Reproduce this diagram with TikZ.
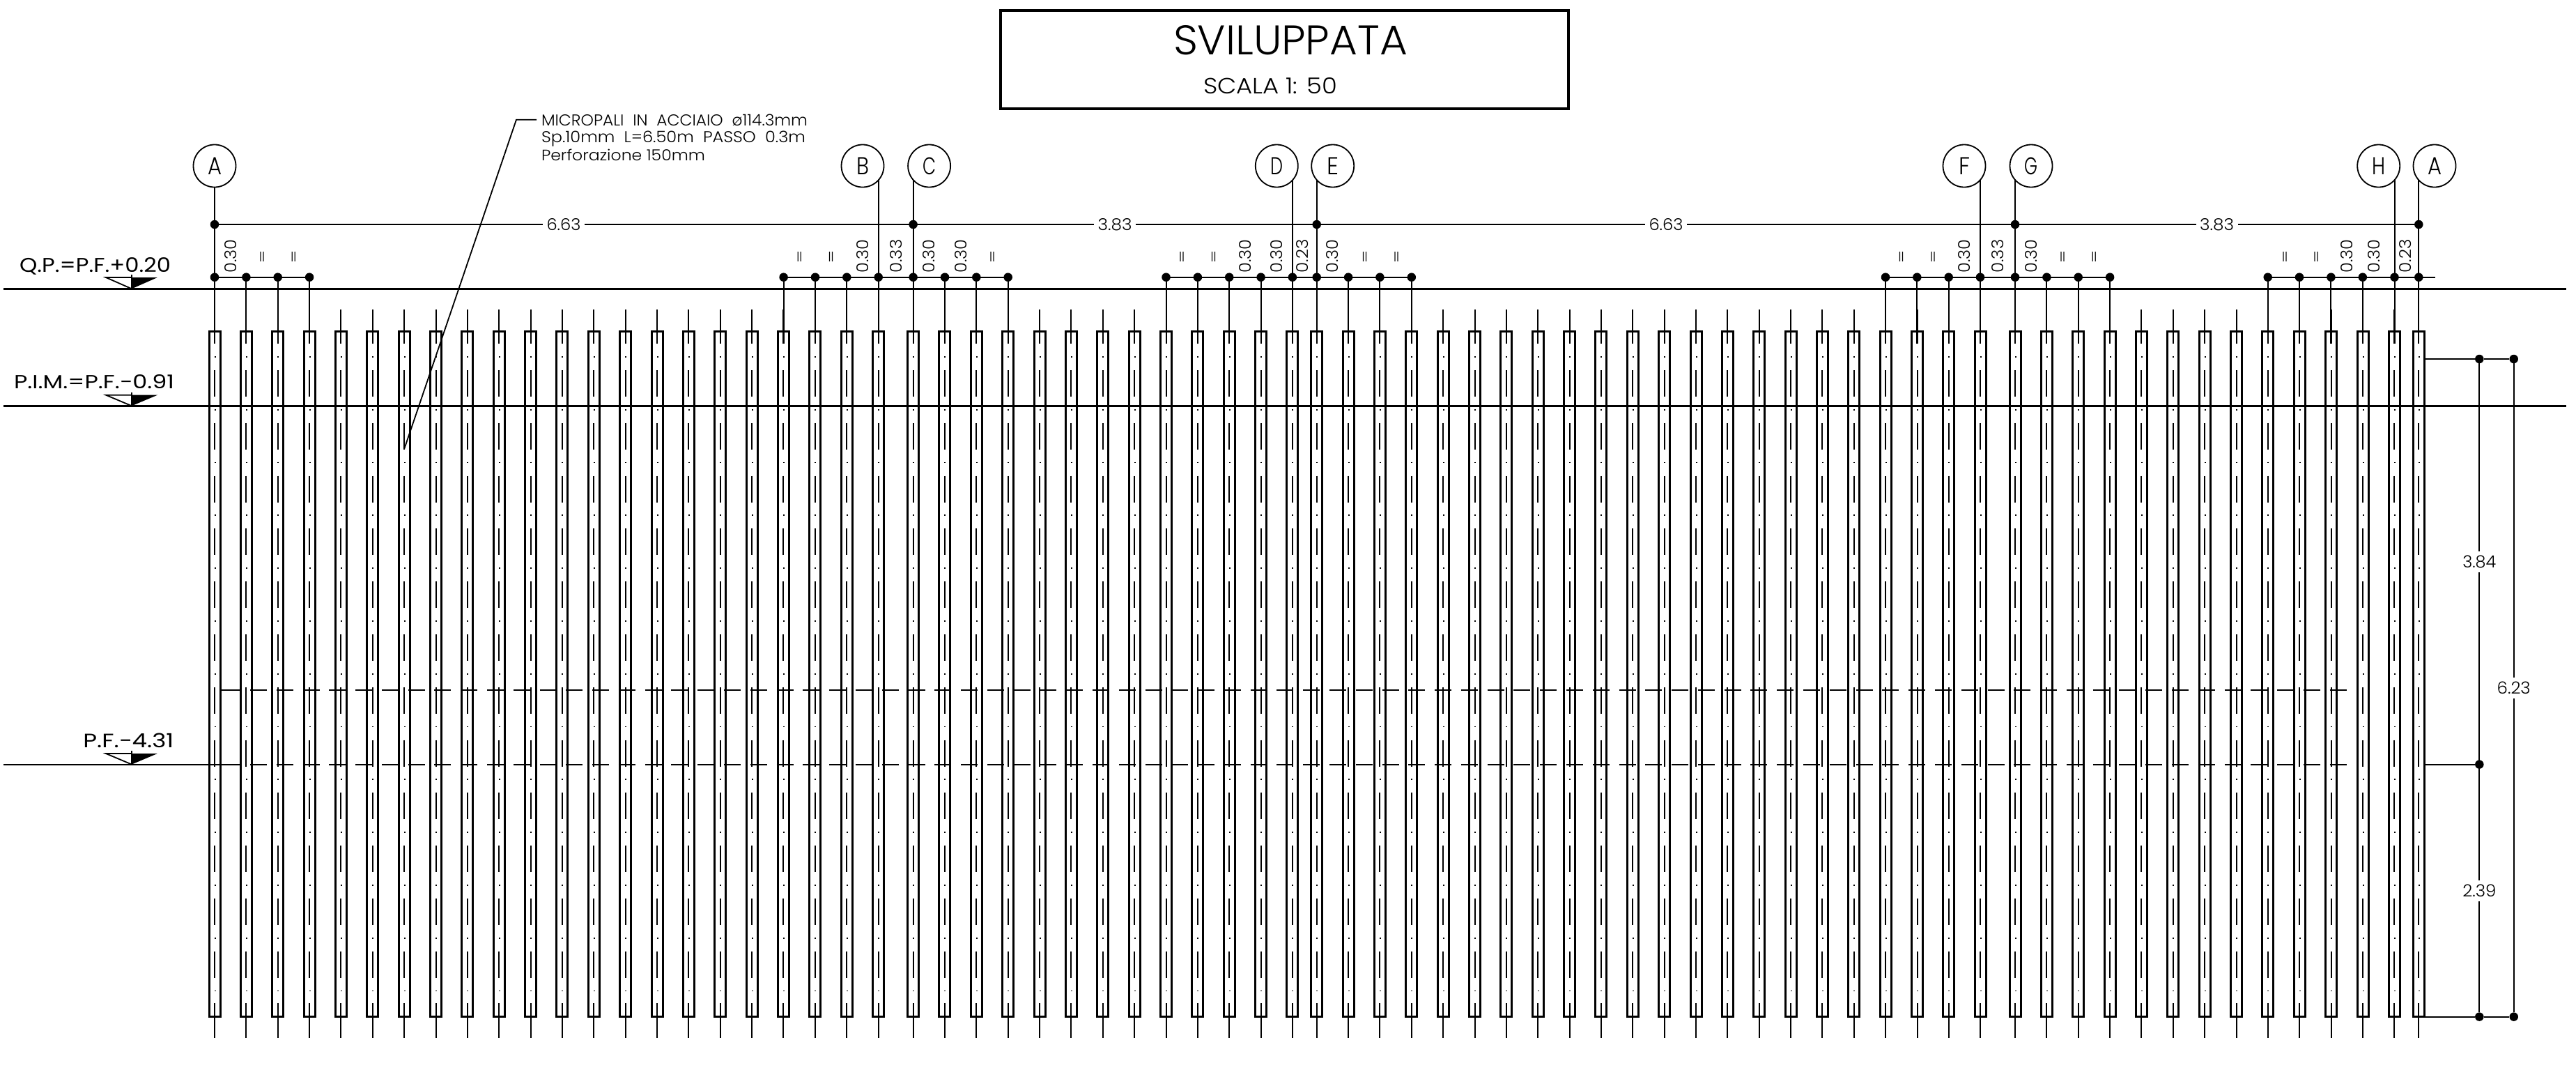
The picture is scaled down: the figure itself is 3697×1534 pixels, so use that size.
\documentclass[tikz,border=0pt]{standalone}
\usepackage{fontspec}
\setmainfont{Poppins}[UprightFont=* Light]
\newfontfamily\levelfont{Poppins}
\usepackage{graphicx}
\newcommand{\fit}[3]{\resizebox{#1pt}{#2pt}{#3}}
\tikzset{
  x=1pt,y=-1pt,
  pilebox/.style={draw=black,line width=3pt,line join=miter},
  axisline/.style={draw=black,line width=2pt},
  dimline/.style={draw=black,line width=1.8pt},
  levelline/.style={draw=black,line width=3pt},
  thinlevel/.style={draw=black,line width=2pt},
  dimdot/.style={circle,fill=black,draw=none,minimum size=12.5pt,inner sep=0pt},
  lab/.style={inner sep=0pt,outer sep=0pt},
  gaplab/.style={fill=white,inner sep=0pt,minimum width=60pt,minimum height=26pt},
  gaplabv/.style={fill=white,inner sep=0pt,minimum width=56pt,minimum height=30pt},
  axiscircle/.style={circle,draw=black,line width=1.8pt,fill=white,minimum size=61pt,inner sep=0pt},
}
\newcommand{\pile}[1]{%
  \draw[pilebox] (#1-8,475) rectangle (#1+8,1458.6);
  \draw[axisline] (#1,444) -- (#1,493);
  \draw[axisline,dash pattern=on 38pt off 37.8pt] (#1,531) -- (#1,1440);
  \draw[axisline,dash pattern=on 1.8pt off 74pt] (#1+.5,511) -- (#1+.5,1425);
  \draw[axisline] (#1,1439) -- (#1,1489);
}
\newcommand{\levelmark}[2]{% apex y, top y
  \draw[line width=1.8pt,fill=white,line join=miter] (152,#2) -- (189,#1) -- (189,#2) -- cycle;
  \fill[black] (189,#2) -- (226,#2) -- (189,#1) -- cycle;
  \draw[line width=1.8pt] (189,#2-4) -- (189,#1);
}
\begin{document}
\begin{tikzpicture}
\useasboundingbox (0,0) rectangle (3697,1534);
% title
\node[draw=black,line width=3.5pt,minimum width=815pt,minimum height=141pt,inner sep=0pt] (titlebox) at (1843.5,85.5) {};
\node[lab,anchor=base] (title) at (1852,78) {\fit{336}{42}{SVILUPPATA}};
\node[lab,anchor=base] (scale) at (1823,134) {\fit{192}{23}{SCALA 1: 50}};
% piles
\foreach \s/\n in {308/21,1310.6/12,1889.7/21,2892/12}{
  \foreach \k in {0,...,\n}{
    \pgfmathsetmacro\X{\s+\k*45.36}
    \pile{\X}
  }
}
\pile{3471.3}
% hidden dashed levels
\draw[thinlevel] (317.6,990.3) -- (344,990.3);
\draw[thinlevel,dash pattern=on 24pt off 13.78pt] (359,990.3) -- (3372,990.3);
\draw[thinlevel] (5,1096.6) -- (344,1096.6);
\draw[thinlevel,dash pattern=on 24pt off 13.78pt] (359,1096.6) -- (3372,1096.6);
% levels
\draw[levelline] (5,414.3) -- (3683,414.3);
\draw[levelline] (5,582.3) -- (3683,582.3);
\levelmark{414.3}{398}
\levelmark{582.3}{566.7}
\levelmark{1096.6}{1081}
\node[lab,anchor=base west] (lqp) at (28,390) {\fit{217}{21}{\levelfont Q.P.=P.F.+0.20}};
\node[lab,anchor=base west] (lpim) at (20,557.7) {\fit{230}{20}{\levelfont P.I.M.=P.F.−0.91}};
\node[lab,anchor=base west] (lpf) at (119.4,1072) {\fit{130}{20.5}{\levelfont P.F.−4.31}};
% axis circles
\node[axiscircle] (cA) at (308,238) {\fit{20}{24.5}{A}};
\node[axiscircle] (cB) at (1238,238) {\fit{18}{24.5}{B}};
\node[axiscircle] (cC) at (1333.6,238) {\fit{19}{24.5}{C}};
\node[axiscircle] (cD) at (1832.3,238) {\fit{18}{24.5}{D}};
\node[axiscircle] (cE) at (1912.7,238) {\fit{17}{24.5}{E}};
\node[axiscircle] (cF) at (2819,238) {\fit{16}{24.5}{F}};
\node[axiscircle] (cG) at (2915,238) {\fit{19}{24.5}{G}};
\node[axiscircle] (cH) at (3413.7,238) {\fit{19}{24.5}{H}};
\node[axiscircle] (cAb) at (3494,238) {\fit{20}{24.5}{A}};
% named grid axes
\foreach \c/\x/\ys in {cA/308/268.5,cB/1261/258,cC/1310.6/258,cD/1854.9/258,cE/1889.7/258,cF/2842/258,cG/2892/258,cH/3436.5/258,cAb/3471.3/258}{
  \coordinate (\c top) at (\x,\ys);
  \coordinate (\c end) at (\x,493);
  \draw[axisline] (\c top) -- (\c end);
}
% overall dimension chain
\foreach \n/\x in {a/308,b/1310.6,c/1889.7,d/2892,e/3471.3}{
  \node[dimdot] (top\n) at (\x,322) {};
}
\draw[dimline] (topa) -- (tope);
\node[lab,gaplab] (d1) at (809,322) {\fit{49}{17}{6.63}};
\node[lab,gaplab] (d2) at (1600,322) {\fit{49}{17}{3.83}};
\node[lab,gaplab] (d3) at (2391,322) {\fit{49}{17}{6.63}};
\node[lab,gaplab] (d4) at (3181.6,322) {\fit{49}{17}{3.83}};
% small dimension chains
\coordinate (g5end) at (3494.7,397.7);
\foreach \g/\first/\last/\xs in {
  1/308/444/{308,353.4,398.7,444.1},
  2/1124.6/1447/{1124.6,1170,1215.3,1260.7,1310.6,1356,1401.3,1446.7},
  3/1673.5/2025.8/{1673.5,1718.9,1764.2,1809.6,1854.9,1889.7,1935.1,1980.4,2025.8},
  4/2706/3028/{2706,2751.3,2796.7,2842,2892,2937.4,2982.7,3028.1},
  5/3254.7/3471.3/{3254.7,3300,3345.4,3390.8,3436.5,3471.3}}{
  \coordinate (g\g a) at (\first,397.7);
  \coordinate (g\g b) at (\last,397.7);
  \draw[dimline] (g\g a) -- (g\g b);
  \foreach \x in \xs {
    \draw[axisline] (\x,397.7) -- (\x,493);
    \node[dimdot] at (\x,397.7) {};
  }
}
\draw[dimline] (g5b) -- (g5end);
% rotated figures
\foreach \x/\t in {330.6/0.30,1238/0.30,1285.6/0.33,1333.3/0.30,1378.7/0.30,
  1786.9/0.30,1832.5/0.30,1869/0.23,1912.4/0.30,
  2819.3/0.30,2867/0.33,2914.7/0.30,
  3368/0.30,3407/0.30,3452.3/0.23}{
  \node[lab,rotate=90] at (\x,367.5) {\fit{48}{17}{\t}};
}
% equal marks
\foreach \x in {376,421.4,1147.3,1192.6,1424,1696.2,1741.5,1958.7,2004,2728.6,2774,2960,3005.4,3279,3324}{
  \node[lab] at (\x,368) {\fit{8}{14}{II}};
}
% right dimensions
\coordinate (r1) at (3481,515);
\coordinate (r2) at (3481,1096.6);
\coordinate (r3) at (3481,1458.6);
\node[dimdot] (ra) at (3558.3,515) {};
\node[dimdot] (rb) at (3607.7,515) {};
\node[dimdot] (rc) at (3558.3,1096.6) {};
\node[dimdot] (rd) at (3558.3,1458.6) {};
\node[dimdot] (re) at (3607.7,1458.6) {};
\draw[dimline] (r1) -- (ra) -- (rb);
\draw[dimline] (r2) -- (rc);
\draw[dimline] (r3) -- (rd) -- (re);
\draw[dimline] (ra) -- (rd);
\draw[dimline] (rb) -- (re);
\node[lab,gaplabv] (v1) at (3558.3,805.7) {\fit{48}{17.5}{3.84}};
\node[lab,gaplabv] (v2) at (3607.7,987) {\fit{48}{17.5}{6.23}};
\node[lab,gaplabv] (v3) at (3558.3,1277.6) {\fit{48}{17.5}{2.39}};
% note
\coordinate (ld0) at (770,171.7);
\coordinate (ld1) at (741,171.7);
\coordinate (ld2) at (580,644.5);
\draw[dimline] (ld0) -- (ld1) -- (ld2);
\node[lab,anchor=base west] (n1) at (777,180) {\fit{382}{16.5}{MICROPALI\ \ IN\ \ ACCIAIO\ \ ø114.3mm}};
\node[lab,anchor=base west] (n2) at (777,204.3) {\fit{379}{16.5}{Sp.10mm\ \ L=6.50m\ \ PASSO\ \ 0.3m}};
\node[lab,anchor=base west] (n3) at (777,230) {\fit{235}{16.5}{Perforazione 150mm}};
\end{tikzpicture}
\end{document}
